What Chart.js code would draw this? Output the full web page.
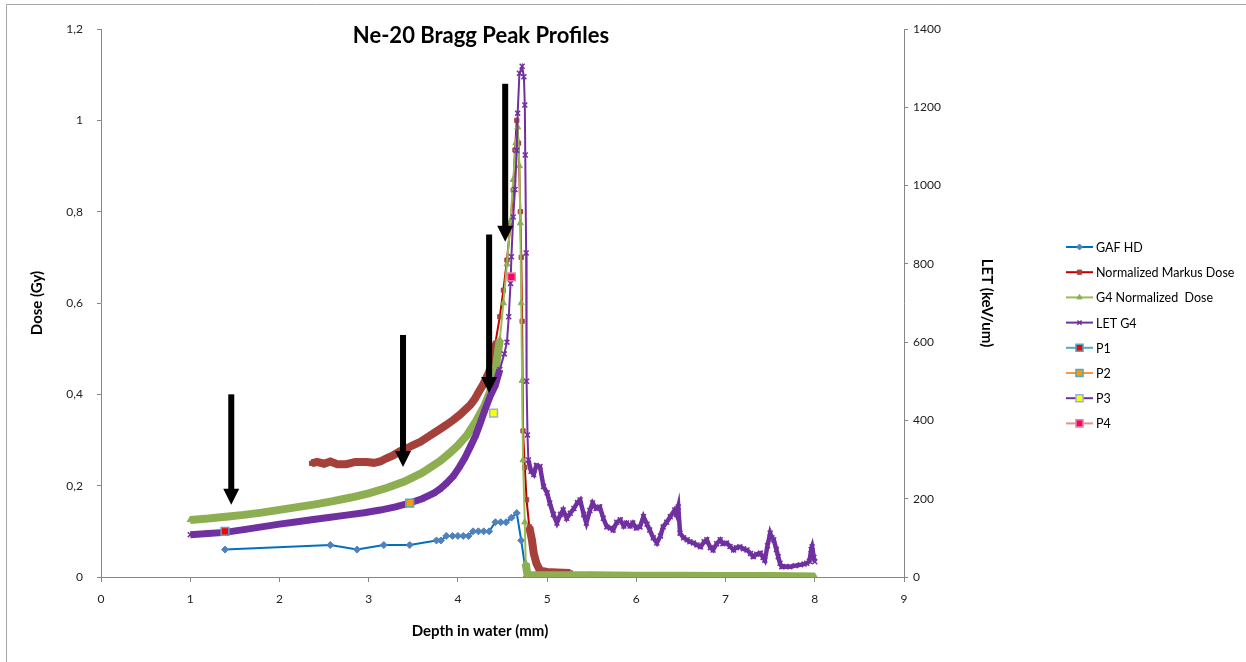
<!DOCTYPE html>
<html>
<head>
<meta charset="utf-8">
<title>Ne-20 Bragg Peak Profiles</title>
<script src="https://cdn.jsdelivr.net/npm/chart.js@4.4.1/dist/chart.umd.min.js"></script>
<style>
  html, body { margin: 0; padding: 0; background: #fff; }
  #wrap { position: relative; width: 1246px; height: 662px; }
</style>
</head>
<body>
<div id="wrap"><canvas id="braggChart" width="1246" height="662"></canvas></div>
<script>
// depth in water (mm), dose (Gy), LET (keV/um)
var gafDepth = [1.39, 2.57, 2.87, 3.17, 3.46, 3.76, 3.81, 3.87, 3.94, 4.0, 4.06, 4.12, 4.17, 4.23, 4.29, 4.35, 4.42, 4.48, 4.54, 4.6, 4.66, 4.71, 4.77];
var gafDose  = [0.06, 0.07, 0.06, 0.07, 0.07, 0.08, 0.08, 0.09, 0.09, 0.09, 0.09, 0.09, 0.1, 0.1, 0.1, 0.1, 0.12, 0.12, 0.12, 0.13, 0.14, 0.08, 0.0];

var markusDepth = [2.36, 2.42, 2.5, 2.57, 2.65, 2.75, 2.85, 2.98, 3.06, 3.13, 3.2, 3.28, 3.35, 3.43, 3.5, 3.58, 3.65, 3.73, 3.8, 3.87, 3.95, 4.02, 4.08, 4.14, 4.19, 4.23, 4.28, 4.35, 4.39, 4.42, 4.47, 4.51, 4.55, 4.59, 4.62, 4.64, 4.66, 4.68, 4.7, 4.71, 4.72, 4.73, 4.75, 4.77, 4.8, 4.83, 4.85, 4.88, 4.92, 5.0, 5.11, 5.26];
var markusDose  = [0.249, 0.252, 0.248, 0.253, 0.247, 0.247, 0.252, 0.252, 0.25, 0.253, 0.26, 0.267, 0.275, 0.282, 0.289, 0.296, 0.305, 0.315, 0.324, 0.333, 0.344, 0.355, 0.366, 0.377, 0.39, 0.404, 0.42, 0.449, 0.475, 0.512, 0.57, 0.628, 0.694, 0.774, 0.847, 0.935, 1.0, 0.95, 0.8, 0.7, 0.56, 0.32, 0.24, 0.169, 0.11, 0.081, 0.052, 0.03, 0.014, 0.011, 0.01, 0.009];

var g4Depth = [1.0, 1.2, 1.4, 1.6, 1.8, 2.0, 2.2, 2.4, 2.6, 2.8, 3.0, 3.2, 3.4, 3.6, 3.8, 3.9, 4.0, 4.1, 4.2, 4.3, 4.36, 4.42, 4.47, 4.51, 4.55, 4.59, 4.62, 4.65, 4.67, 4.69, 4.7, 4.71, 4.72, 4.73, 4.75, 4.76, 4.78, 5.0, 5.5, 6.0, 6.5, 7.0, 7.5, 8.0];
var g4Dose  = [0.125, 0.128, 0.132, 0.136, 0.141, 0.147, 0.153, 0.159, 0.166, 0.174, 0.183, 0.195, 0.209, 0.228, 0.254, 0.27, 0.288, 0.31, 0.34, 0.376, 0.405, 0.45, 0.52, 0.6, 0.685, 0.78, 0.87, 0.95, 0.985, 0.9, 0.775, 0.6, 0.43, 0.256, 0.12, 0.03, 0.004, 0.004, 0.004, 0.003, 0.003, 0.002, 0.002, 0.001];

var letDepth = [1.0, 1.2, 1.39, 1.6, 1.8, 2.0, 2.2, 2.38, 2.55, 2.75, 2.95, 3.13, 3.3, 3.46, 3.6, 3.73, 3.8, 3.87, 3.95, 4.02, 4.08, 4.14, 4.2, 4.25, 4.3, 4.36, 4.42, 4.47, 4.52, 4.55, 4.57, 4.59, 4.6, 4.62, 4.64, 4.66, 4.67, 4.69, 4.72, 4.74, 4.75, 4.755, 4.765, 4.77, 4.78,
  4.79, 4.82, 4.85, 4.88, 4.92, 4.96, 5.0, 5.03, 5.07, 5.11, 5.15, 5.18, 5.22, 5.26, 5.3, 5.34, 5.37, 5.41, 5.44, 5.48, 5.51, 5.55, 5.59, 5.63, 5.67, 5.71, 5.74, 5.78, 5.82, 5.86, 5.89, 5.93, 5.96, 6.0, 6.04, 6.08, 6.12, 6.15, 6.19, 6.23, 6.27, 6.3, 6.34, 6.38, 6.43, 6.45, 6.47, 6.49, 6.53, 6.57, 6.6, 6.64, 6.68, 6.72, 6.76, 6.79, 6.83, 6.86, 6.9, 6.94, 6.97, 7.01, 7.05, 7.09, 7.12, 7.16, 7.2, 7.24, 7.28, 7.31, 7.35, 7.39, 7.42, 7.44, 7.47, 7.5, 7.52, 7.54, 7.57, 7.59, 7.61, 7.63, 7.68, 7.72, 7.78, 7.84, 7.88, 7.91, 7.94, 7.96, 7.97, 7.99, 8.0];
var letValue = [108, 111, 114, 121, 128, 135, 141, 147, 152, 158, 164, 171, 179, 189, 200, 214, 225, 239, 258, 282, 305, 333, 362, 393, 425, 461, 490, 530, 570, 600, 665, 750, 818, 920, 990, 1090, 1185, 1287, 1305, 1278, 1206, 1078, 828, 500, 363,
  299, 270, 262, 285, 282, 231, 215, 189, 160, 138, 160, 171, 150, 163, 175, 190, 197, 160, 138, 170, 189, 175, 179, 150, 128, 125, 120, 140, 146, 130, 138, 130, 138, 125, 128, 154, 135, 120, 100, 87, 105, 128, 140, 154, 171, 160, 179, 112, 100, 95, 90, 87, 82, 77, 90, 95, 75, 69, 85, 95, 85, 87, 78, 69, 75, 77, 72, 69, 60, 52, 58, 61, 50, 43, 80, 112, 100, 95, 70, 52, 35, 26, 27, 26, 29, 31, 33, 35, 40, 70, 77, 50, 39];

// film sample positions
var sampleNames = ['P1', 'P2', 'P3', 'P4'];
var sampleDepth = [1.39, 3.46, 4.40, 4.60];
var sampleDose  = [0.10, 0.162, 0.359, 0.657];

// arrows marking the sample depths (dose units)
var arrowDepth = [1.46, 3.385, 4.35, 4.53];
var arrowFrom  = [0.40, 0.53, 0.75, 1.08];
var arrowTo    = [0.158, 0.241, 0.403, 0.734];

var doseTicks = [0, 0.2, 0.4, 0.6, 0.8, 1.0, 1.2];

function pts(xs, ys) {
  return xs.map(function (x, i) { return { x: x, y: ys[i] }; });
}

// thick band away from the peak, thin line through it
function byRegion(lo, hi, outside, inside) {
  return function (c) {
    var x = c.p0.parsed.x;
    return (x < lo || x >= hi) ? outside : inside;
  };
}

var sampleFill = ['#ff0000', '#ff9900', '#ffff00', '#ff0066'];
var sampleEdge = ['#4bacc6', '#4bacc6', '#8eb4e3', '#e6899e'];
var sampleLine = ['#4bacc6', '#f79646', '#7030a0', '#d99694'];

var datasets = [
  {
    label: 'GAF HD', data: pts(gafDepth, gafDose), yAxisID: 'y', order: 5, showLine: true,
    borderColor: '#0070c0', borderWidth: 2, backgroundColor: '#4f81bd',
    pointStyle: 'rectRot', pointRadius: 3.5, pointBorderColor: '#4f81bd', pointBorderWidth: 1,
    legendLine: '#0070c0'
  },
  {
    label: 'Normalized Markus Dose', data: pts(markusDepth, markusDose), yAxisID: 'y', order: 4, showLine: true,
    borderColor: '#a5403b', borderWidth: 2, backgroundColor: '#a5403b',
    pointStyle: 'rect', pointRadius: 3, pointBorderColor: '#a5403b', pointBorderWidth: 1,
    segment: {
      borderWidth: byRegion(4.4, 4.78, 8, 2),
      borderColor: byRegion(4.4, 4.78, '#a5403b', '#c00000')
    },
    legendLine: '#c00000'
  },
  {
    label: 'G4 Normalized  Dose', data: pts(g4Depth, g4Dose), yAxisID: 'y', order: 3, showLine: true,
    borderColor: '#8daf52', borderWidth: 2, backgroundColor: '#8daf52',
    pointStyle: 'triangle', pointRadius: 3.5, pointBorderColor: '#8daf52', pointBorderWidth: 1,
    segment: {
      borderWidth: byRegion(4.45, 4.76, 8, 2),
      borderColor: byRegion(4.45, 4.76, '#8daf52', '#9bbb59')
    },
    legendLine: '#9bbb59'
  },
  {
    label: 'LET G4', data: pts(letDepth, letValue), yAxisID: 'y2', order: 2, showLine: true,
    borderColor: '#7030a0', borderWidth: 2, backgroundColor: '#7030a0',
    pointStyle: 'crossRot', pointRadius: 3.5, pointBorderColor: '#7030a0', pointBorderWidth: 1.5,
    segment: {
      // solid band on the entrance plateau, thin through the peak, noisy band in the tail
      borderWidth: function (c) {
        var x = c.p0.parsed.x;
        if (x < 4.45) return 7;
        return x >= 4.79 ? 4.5 : 2;
      }
    },
    legendLine: '#7030a0'
  }
];

sampleNames.forEach(function (name, i) {
  datasets.push({
    label: name, data: [{ x: sampleDepth[i], y: sampleDose[i] }], yAxisID: 'y', order: 1,
    showLine: false, pointStyle: 'rect', pointRadius: 5.5,
    backgroundColor: sampleFill[i], borderColor: sampleEdge[i], pointBorderWidth: 1.5,
    legendLine: sampleLine[i]
  });
});

var decorations = {
  id: 'decorations',
  beforeDraw: function (chart) {
    var ctx = chart.ctx;
    ctx.save();
    ctx.fillStyle = '#ffffff';
    ctx.fillRect(0, 0, chart.width, chart.height);
    ctx.strokeStyle = '#a6a6a6';
    ctx.lineWidth = 1;
    ctx.beginPath();
    ctx.moveTo(6.5, chart.height);
    ctx.lineTo(6.5, 4.5);
    ctx.lineTo(chart.width, 4.5);
    ctx.stroke();
    ctx.restore();
  },
  afterDatasetsDraw: function (chart) {
    var ctx = chart.ctx, xs = chart.scales.x, ys = chart.scales.y;
    ctx.save();
    ctx.fillStyle = '#000000';
    arrowDepth.forEach(function (d, i) {
      var x = xs.getPixelForValue(d);
      var top = ys.getPixelForValue(arrowFrom[i]);
      var tip = ys.getPixelForValue(arrowTo[i]);
      ctx.fillRect(x - 3, top, 6, tip - top - 14);
      ctx.beginPath();
      ctx.moveTo(x - 8, tip - 16);
      ctx.lineTo(x + 8, tip - 16);
      ctx.lineTo(x, tip);
      ctx.closePath();
      ctx.fill();
    });
    ctx.restore();
  },
  afterDraw: function (chart) {
    var ctx = chart.ctx;
    ctx.save();
    ctx.fillStyle = '#000000';
    ctx.textAlign = 'center';
    ctx.textBaseline = 'alphabetic';
    ctx.font = 'bold 22px Lato';
    ctx.fillText('Ne-20 Bragg Peak Profiles', 481, 43);
    ctx.textBaseline = 'middle';
    ctx.font = 'bold 15px Lato';
    ctx.fillText('Depth in water (mm)', 480, 631);

    // legend: line sample with marker, then label
    ctx.textAlign = 'left';
    ctx.font = '12.5px Lato';
    chart.data.datasets.forEach(function (ds, i) {
      var y = 247 + i * 25.2;
      ctx.strokeStyle = ds.legendLine;
      ctx.lineWidth = 2;
      ctx.beginPath();
      ctx.moveTo(1066, y);
      ctx.lineTo(1093, y);
      ctx.stroke();
      ctx.fillStyle = ds.backgroundColor;
      ctx.strokeStyle = ds.pointBorderColor || ds.borderColor;
      ctx.lineWidth = ds.pointBorderWidth;
      Chart.helpers.drawPoint(ctx, {
        pointStyle: ds.pointStyle, radius: ds.label.charAt(0) === 'P' ? 5 : 3, rotation: 0,
        borderWidth: ds.pointBorderWidth
      }, 1079.5, y);
      ctx.fillStyle = '#000000';
      ctx.fillText(ds.label, 1096, y + 1);
    });
    ctx.restore();
  }
};

Chart.defaults.font.family = 'Lato';
Chart.defaults.color = '#222';

new Chart(document.getElementById('braggChart').getContext('2d'), {
  type: 'scatter',
  data: { datasets: datasets },
  options: {
    responsive: false,
    animation: false,
    devicePixelRatio: 1,
    layout: { padding: { left: 24, right: 246, top: 29, bottom: 17 } },
    plugins: { legend: { display: false }, title: { display: false }, tooltip: { enabled: false } },
    scales: {
      x: {
        type: 'linear', min: 0, max: 9,
        afterFit: function (s) { s.height = 68; },
        ticks: { stepSize: 1, padding: 10, font: { size: 12 }, color: '#222' },
        grid: { drawOnChartArea: false, drawTicks: true, tickLength: 5, color: '#868686' },
        border: { color: '#868686' }
      },
      y: {
        position: 'left', min: 0, max: 1.2,
        afterFit: function (s) { s.width = 77; },
        afterBuildTicks: function (s) { s.ticks = doseTicks.map(function (v) { return { value: v }; }); },
        ticks: {
          padding: 14, font: { size: 12 }, color: '#222',
          callback: function (v) { return String(Math.round(v * 10) / 10).replace('.', ','); }
        },
        grid: { drawOnChartArea: false, drawTicks: true, tickLength: 4, color: '#868686' },
        border: { color: '#868686' },
        title: { display: true, text: 'Dose (Gy)', color: '#000', font: { size: 15, weight: 'bold' }, padding: 4 }
      },
      y2: {
        position: 'right', min: 0, max: 1400,
        afterFit: function (s) { s.width = 96; },
        ticks: {
          stepSize: 200, padding: 5, font: { size: 12 }, color: '#222',
          callback: function (v) { return String(v); }
        },
        grid: { drawOnChartArea: false, drawTicks: true, tickLength: 4, color: '#868686' },
        border: { color: '#868686' },
        title: { display: true, text: 'LET (keV/um)', color: '#000', font: { size: 15, weight: 'bold' }, padding: 4 }
      }
    }
  },
  plugins: [decorations]
});
</script>
</body>
</html>
